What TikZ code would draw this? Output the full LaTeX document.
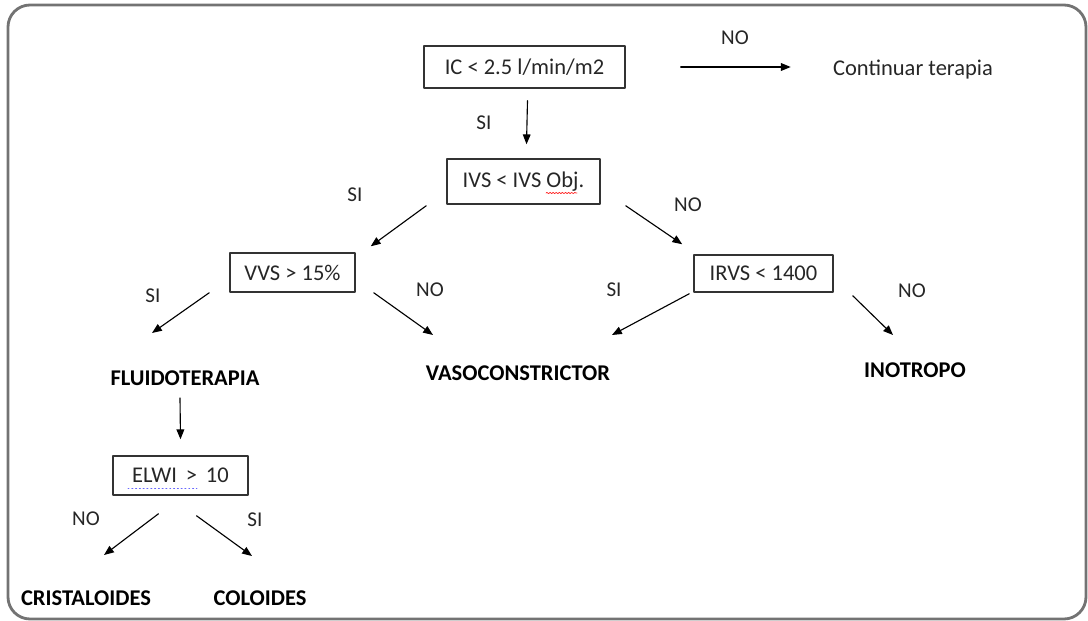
\documentclass[tikz,border=0pt]{standalone}
\usepackage{fontspec}
\setmainfont{Carlito}
\usetikzlibrary{arrows.meta,calc,decorations.pathmorphing}

\begin{document}
\begin{tikzpicture}[x=0.025cm, y=-0.025cm, line cap=round, line join=round,
    caja/.style={draw=black!80, line width=0.9pt, inner sep=0pt, text=black!85, font=\fontsize{16}{18}\selectfont},
    flecha/.style={-{Triangle[length=7pt,width=5.5pt]}, line width=0.8pt},
    etiq/.style={inner sep=0pt, text=black!85, font=\fontsize{15}{17}\selectfont},
    final/.style={inner sep=0pt, font=\bfseries\fontsize{16}{18}\selectfont}]

    %====================
    % 1) marco exterior
    %====================
    \useasboundingbox (0,0) rectangle (1088,620);
    \draw[black!55, line width=2pt, rounded corners=0.55cm] (8,5) rectangle (1086,619);

    %====================
    % 2) cajas de decision
    %====================
    \node[caja, minimum width=5.03cm, minimum height=1.05cm] (ic)   at (524.5,67)  {IC < 2.5 l/min/m2};
    \node[caja, minimum width=3.83cm, minimum height=1.13cm] (ivs)  at (523.5,181.5) {IVS < IVS Obj.};
    \node[caja, minimum width=3.13cm, minimum height=0.98cm] (vvs)  at (292.5,272.5) {VVS > 15\%};
    \node[caja, minimum width=3.48cm, minimum height=0.93cm] (irvs) at (763.5,273.5) {IRVS < 1400};
    \node[caja, minimum width=3.38cm, minimum height=0.98cm] (elwi) at (180.5,475.5) {ELWI \,>\, 10};

    % subrayados del corrector
    \draw[red!85, line width=0.5pt, decorate, decoration={snake, amplitude=0.5pt, segment length=2.2pt}]
        (546,193) -- (577,193);
    \draw[blue!60, line width=0.7pt, dotted] (128,488) -- (197,488);

    %====================
    % 3) resultados
    %====================
    \node[etiq, font=\fontsize{16}{18}\selectfont] (cont) at (913,70) {Continuar terapia};
    \node[final] (fluido) at (185,378) {FLUIDOTERAPIA};
    \node[final] (vaso)   at (518,373) {VASOCONSTRICTOR};
    \node[final] (ino)    at (915,370) {INOTROPO};
    \node[final] (crist)  at (86,598)  {CRISTALOIDES};
    \node[final] (colo)   at (260,598) {COLOIDES};

    %====================
    % 4) flechas
    %====================
    \draw[flecha] ($(ic.east)+(55,0)$) -- ($(ic.east)+(165,0)$);
    \draw[flecha] ($(ic.south)+(3,12)$) -- ($(ivs.north)+(3,-14)$);
    \draw[flecha] ($(ivs.south west)+(-20,1)$) -- ($(vvs.north east)+(15,-6)$);
    \draw[flecha] ($(ivs.south east)+(25,1)$) -- ($(irvs.north west)+(-11,-10)$);
    \draw[flecha] ($(vvs.south west)+(-20,0)$) -- ($(fluido)+(-33,-45)$);
    \draw[flecha] ($(vvs.south east)+(18,0)$) -- ($(vaso)+(-85,-38)$);
    \draw[flecha] ($(irvs.south west)+(-4,1)$) -- ($(vaso)+(94,-38)$);
    \draw[flecha] ($(irvs.south east)+(19,3)$) -- ($(ino)+(-22,-35)$);
    \draw[flecha] ($(fluido)+(-5,20)$) -- ($(elwi.north)+(0,-16)$);
    \draw[flecha] ($(elwi.south)+(-22,18)$) -- ($(crist)+(18,-43)$);
    \draw[flecha] ($(elwi.south)+(16,20)$) -- ($(colo)+(-8,-42)$);

    %====================
    % 5) etiquetas SI / NO
    %====================
    \node[etiq] (l1)  at (735,38)  {NO};
    \node[etiq] (l2)  at (484,123) {SI};
    \node[etiq] (l3)  at (355,195) {SI};
    \node[etiq] (l4)  at (688,205) {NO};
    \node[etiq] (l5)  at (153,296) {SI};
    \node[etiq] (l6)  at (430,290) {NO};
    \node[etiq] (l7)  at (614,290) {SI};
    \node[etiq] (l8)  at (912,291) {NO};
    \node[etiq] (l9)  at (86,519)  {NO};
    \node[etiq] (l10) at (255,520) {SI};

\end{tikzpicture}
\end{document}
